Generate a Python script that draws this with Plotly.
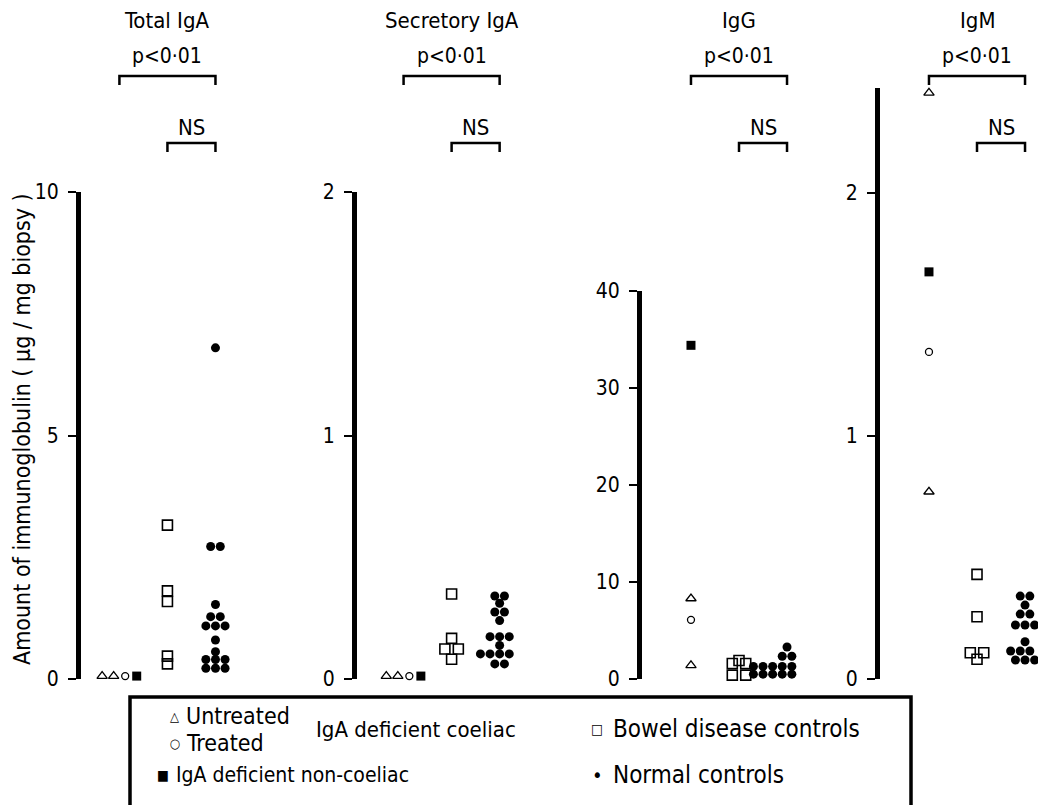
import plotly.graph_objects as go

OFF = 0
W, H = 1038, 805

# ---------------- data ----------------
panel_titles = ["Total IgA", "Secretory IgA", "IgG", "IgM"]
p_labels = ["p<0·01", "p<0·01", "p<0·01", "p<0·01"]
ns_labels = ["NS", "NS", "NS", "NS"]
tick_values = [[0, 5, 10], [0, 1, 2], [0, 10, 20, 30, 40], [0, 1, 2]]

total_untreated = [0.06, 0.06]
total_treated = [0.06]
total_noncoeliac = [0.06]
total_bowel = [3.16, 1.81, 1.59, 0.47, 0.31]
total_normal = [6.8, 2.72, 2.72, 1.53, 1.28, 1.28, 1.09, 1.09, 1.09, 0.80, 0.56,
                0.40, 0.40, 0.40, 0.22, 0.22, 0.22]

sec_untreated = [0.012, 0.012]
sec_treated = [0.012]
sec_noncoeliac = [0.012]
sec_bowel = [0.349, 0.167, 0.123, 0.123, 0.081]
sec_normal = [0.341, 0.341, 0.311, 0.275, 0.275, 0.240, 0.174, 0.174, 0.174, 0.138,
              0.103, 0.103, 0.103, 0.103, 0.103, 0.062, 0.062]

igg_untreated = [8.3, 1.4]
igg_treated = [6.1]
igg_noncoeliac = [34.4]
igg_bowel = [1.9, 1.6, 1.6, 0.4, 0.4]
igg_normal = [3.3, 2.35, 2.35] + [1.3] * 8 + [0.5] * 8

igm_untreated = [2.41, 0.77]
igm_treated = [1.345]
igm_noncoeliac = [1.674]
igm_bowel = [0.43, 0.256, 0.108, 0.108, 0.081]
igm_normal = [0.341, 0.341, 0.304, 0.267, 0.267, 0.222, 0.222, 0.222, 0.153,
              0.115, 0.115, 0.115, 0.115, 0.078, 0.078, 0.078]

untreated = [total_untreated, sec_untreated, igg_untreated, igm_untreated]
treated = [total_treated, sec_treated, igg_treated, igm_treated]
noncoeliac = [total_noncoeliac, sec_noncoeliac, igg_noncoeliac, igm_noncoeliac]
bowel = [total_bowel, sec_bowel, igg_bowel, igm_bowel]
normal = [total_normal, sec_normal, igg_normal, igm_normal]

# ---------------- layout helpers ----------------
FONT = "Liberation Sans Narrow, DejaVu Sans Condensed, DejaVu Sans, sans-serif"
axis_px = [81, 357, 642, 880]          # left edge of each panel (screen px)
panel_w = 158                           # px
xranges = [[0.2, 3.49], [0.03, 3.32], [-0.02, 3.27], [-0.02, 3.27]]
y_bottom_px = 679
y_top_px = [192, 192, 291, 88]
yranges = [[0, 10], [0, 2], [0, 40], [0, 2.43]]


def py(p):
    return 1 - (p - OFF) / H


def px(p):
    return (p - OFF) / W


def row_offsets(values, spacing):
    """dot-plot layout: identical values are spread side by side in a row"""
    counts = {}
    for v in values:
        counts[v] = counts.get(v, 0) + 1
    seen = {}
    out = []
    for v in values:
        i = seen.get(v, 0)
        seen[v] = i + 1
        out.append((i - (counts[v] - 1) / 2) * spacing)
    return out


fig = go.Figure()

for k in range(4):
    xa = "x" if k == 0 else f"x{k+1}"
    ya = "y" if k == 0 else f"y{k+1}"
    # deficient group (position 1): combine untreated, treated, non-coeliac
    dvals = untreated[k] + treated[k] + noncoeliac[k]
    doff = row_offsets(dvals, 0.24)
    n_u, n_t = len(untreated[k]), len(treated[k])
    groups = [
        (untreated[k], doff[:n_u], 1, dict(symbol="triangle-up-open", size=9, color="black",
                                             line=dict(width=1.3, color="black"))),
        (treated[k], doff[n_u:n_u + n_t], 1, dict(symbol="circle-open", size=7, color="black",
                                                   line=dict(width=1.3, color="black"))),
        (noncoeliac[k], doff[n_u + n_t:], 1, dict(symbol="square", size=9, color="black")),
        (bowel[k], row_offsets(bowel[k], 0.28), 2, dict(symbol="square-open", size=10, color="black",
                                                          line=dict(width=1.6, color="black"))),
        (normal[k], row_offsets(normal[k], 0.2), 3, dict(symbol="circle", size=9, color="black")),
    ]
    for vals, offs, pos, mk in groups:
        fig.add_trace(go.Scatter(
            x=[pos + o for o in offs], y=vals, mode="markers", marker=mk,
            xaxis=xa, yaxis=ya, cliponaxis=False, showlegend=False, hoverinfo="y"))

    xkey = "xaxis" if k == 0 else f"xaxis{k+1}"
    ykey = "yaxis" if k == 0 else f"yaxis{k+1}"
    fig.update_layout({
        xkey: dict(domain=[px(axis_px[k]), min(1.0, px(axis_px[k] + panel_w))],
                   range=xranges[k], visible=False, anchor=ya, automargin=False),
        ykey: dict(domain=[py(y_bottom_px), py(y_top_px[k])], range=yranges[k],
                   anchor=xa, showline=True, linewidth=5, linecolor="black",
                   ticks="outside", ticklen=8, tickwidth=1.5, tickcolor="black",
                   ticklabelstandoff=5,
                   tickvals=tick_values[k], showgrid=False, zeroline=False,
                   automargin=False,
                   tickfont=dict(family=FONT, size=21, color="black")),
    })

    # headers and significance brackets
    mid13 = 2.0
    mid23 = 2.5
    for text, ypix, sz in [(panel_titles[k], 20, 22), (p_labels[k], 56, 21)]:
        fig.add_annotation(x=mid13, y=py(ypix), xref=xa, yref="paper", text=text,
                           showarrow=False, yanchor="middle",
                           font=dict(family=FONT, size=sz, color="black"))
    fig.add_annotation(x=mid23, y=py(127), xref=xa, yref="paper", text=ns_labels[k],
                       showarrow=False, yanchor="middle",
                       font=dict(family=FONT, size=22, color="black"))
    for (x0, x1, ytop) in [(1, 3, 76), (2, 3, 143)]:
        fig.add_shape(type="path", xref=xa, yref="paper",
                      path=f"M {x0},{py(ytop + 9)} L {x0},{py(ytop)} L {x1},{py(ytop)} L {x1},{py(ytop + 9)}",
                      line=dict(color="black", width=2.5))

# y axis title
fig.add_annotation(x=px(22), y=py(429), xref="paper", yref="paper",
                   text="Amount of immunoglobulin ( µg / mg biopsy )", textangle=-90,
                   showarrow=False, xanchor="center", yanchor="middle",
                   font=dict(family=FONT, size=23, color="black"))

# legend box
fig.add_shape(type="rect", xref="paper", yref="paper", x0=px(130), x1=px(911),
              y0=-0.1, y1=py(697), line=dict(color="black", width=3.5))


def legend_text(xp, yp, text, size=24):
    fig.add_annotation(x=px(xp), y=py(yp), xref="paper", yref="paper", text=text,
                       xanchor="left", yanchor="middle", showarrow=False,
                       font=dict(family=FONT, size=size, color="black"))


legend_text(168, 716, "△", 13)
legend_text(184, 716, "Untreated", 23)
legend_text(168, 743, "○", 13)
legend_text(184, 743, "Treated", 23)
legend_text(314, 729, "IgA deficient coeliac", 22)
legend_text(589, 729, "□", 14)
legend_text(611, 729, "Bowel disease controls")
legend_text(155, 775, "■", 14)
legend_text(174, 775, "IgA deficient non-coeliac", 21)
legend_text(590, 775, "•", 20)
legend_text(611, 775, "Normal controls")

fig.update_layout(width=W, height=H,
                  margin=dict(l=0, r=0, t=0, b=0, pad=0, autoexpand=False),
                  template="none",
                  paper_bgcolor="white", plot_bgcolor="white", showlegend=False)

fig.write_html("out.html", config={"displayModeBar": False},
               post_script="document.body.style.margin='0';document.body.style.overflow='hidden';")
